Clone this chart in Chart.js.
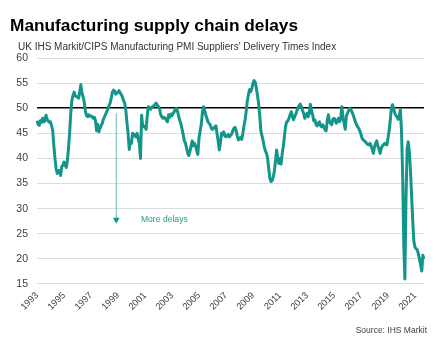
<!DOCTYPE html>
<html>
<head>
<meta charset="utf-8">
<script src="https://cdn.jsdelivr.net/npm/chart.js@4/dist/chart.umd.min.js"></script>
<style>
  html, body { margin: 0; padding: 0; background: #ffffff; }
  #wrap { position: relative; width: 438px; height: 346px; overflow: hidden; font-family: "Liberation Sans", Arial, sans-serif; }
  #chart { position: absolute; left: 0; top: 0; }
  .txt { position: absolute; white-space: nowrap; line-height: 1; }
  #title { left: 10px; top: 17.3px; font-size: 17.3px; font-weight: bold; color: #000; }
  #subtitle { left: 18px; top: 41.5px; font-size: 10px; color: #333; }
  #source { right: 11px; top: 325.5px; font-size: 8.5px; color: #404040; }
</style>
</head>
<body>
<div id="wrap">
  <canvas id="chart" width="438" height="346"></canvas>
  <div class="txt" id="title">Manufacturing supply chain delays</div>
  <div class="txt" id="subtitle">UK IHS Markit/CIPS Manufacturing PMI Suppliers' Delivery Times Index</div>
  <div class="txt" id="source">Source: IHS Markit</div>
</div>
<script>
// ---- Data (monthly, Jan 1993 onwards) ----
const startYear = 1993;
const deliveryTimes1993to1999 = [
  47.5, 46.8, 46.6, 47.5, 47.2, 48.0, 47.3, 47.5, 48.6, 47.8, 47.5, 47.2,
  47.3, 46.5, 45.5, 42.5, 40.0, 38.0, 37.0, 37.6, 37.5, 36.6, 38.4, 38.6,
  39.3, 38.8, 38.2, 39.5, 42.0, 45.0, 49.0, 51.5, 52.5, 53.2, 52.5, 52.3,
  52.3, 52.0, 53.3, 54.7, 53.0, 52.3, 51.2, 49.5, 48.5, 48.3, 48.7, 48.4,
  48.5, 48.3, 48.0, 48.2, 47.5, 45.5, 46.8, 45.3, 46.0, 46.5, 47.0, 47.8,
  48.3, 48.8, 49.3, 49.8, 50.5, 51.0, 52.0, 53.2, 53.6, 53.4, 52.8, 53.0,
  53.2, 53.5, 53.0, 52.7, 52.2, 51.5, 51.0, 49.5, 47.0, 45.0, 41.8, 43.5
];
const deliveryTimes2000to2006 = [
  43.0, 45.0, 44.5, 44.8, 44.3, 45.0, 44.0, 43.0, 40.0, 48.6, 46.3, 46.5,
  46.3, 45.8, 48.5, 50.3, 50.0, 49.8, 50.2, 50.3, 50.5, 50.8, 51.0, 50.5,
  50.3, 49.8, 48.7, 48.3, 48.0, 48.2, 48.0, 47.6, 47.3, 48.7, 48.2, 48.8,
  48.5, 49.0, 49.3, 49.8, 50.0, 49.3, 48.3, 47.5, 46.8, 45.8, 44.7, 43.5,
  43.0, 42.0, 41.0, 40.6, 41.5, 42.5, 43.5, 42.5, 43.0, 42.5, 41.5, 40.8,
  44.0, 45.5, 46.7, 49.0, 50.3, 49.5, 48.7, 48.0, 47.3, 47.0, 46.7, 46.0,
  45.8, 46.0, 46.3, 46.5, 45.0, 43.5, 41.7, 43.0, 45.0, 44.7, 45.3, 44.5
];
const deliveryTimes2007to2013 = [
  44.3, 44.5, 44.8, 44.3, 44.6, 44.8, 45.5, 46.0, 46.2, 45.5, 44.5, 43.7,
  44.0, 44.2, 43.8, 45.0, 46.5, 47.7, 49.5, 51.5, 52.8, 53.7, 53.3, 54.0,
  55.0, 55.5, 55.2, 54.0, 52.5, 51.0, 48.5, 45.5, 44.5, 43.5, 42.3, 41.5,
  41.0, 40.0, 38.0, 36.0, 35.4, 35.6, 36.3, 37.5, 39.5, 41.7, 40.0, 39.0,
  40.0, 38.9, 41.0, 42.5, 44.5, 46.5, 47.3, 47.5, 48.0, 48.7, 49.3, 48.5,
  47.7, 48.3, 48.8, 49.5, 50.0, 50.5, 50.8, 50.3, 49.5, 49.0, 48.0, 48.5,
  49.0, 48.3, 49.0, 50.8, 49.5, 48.7, 47.5, 47.7, 46.8, 46.5, 47.0, 47.3
];
const deliveryTimes2014to2021 = [
  46.6, 46.3, 46.7, 46.3, 45.7, 45.5, 47.5, 48.7, 47.3, 47.0, 46.7, 47.8,
  48.0, 47.7, 47.0, 47.5, 48.0, 47.3, 48.0, 50.3, 48.0, 47.0, 45.8, 48.5,
  49.0, 49.5, 50.0, 49.7, 49.2, 48.7, 48.0, 47.3, 46.8, 46.3, 46.0, 45.4,
  44.8, 44.0, 43.7, 43.5, 43.3, 43.0, 42.8, 42.7, 43.0, 42.5, 41.8, 41.0,
  42.3, 43.0, 43.5, 42.5, 41.8, 41.0, 42.0, 42.5, 42.7, 43.0, 42.8, 42.7,
  44.0, 45.5, 47.5, 50.0, 50.7, 50.0, 49.0, 48.5, 48.3, 47.8, 48.5, 49.7,
  45.5, 37.0, 23.0, 16.0, 32.0, 42.0, 43.3, 41.3, 37.5, 32.5, 27.5, 23.5,
  22.3, 22.0, 21.8, 21.0, 20.0, 18.8, 17.6, 20.7, 20.0
];
const yAxisMin = 15, yAxisMax = 60, yAxisStep = 5;
const referenceLevel = 50;
const annotationText = "More delays";

const values = [].concat(deliveryTimes1993to1999, deliveryTimes2000to2006,
                         deliveryTimes2007to2013, deliveryTimes2014to2021);
const labels = values.map((v, i) => (startYear + Math.floor(i / 12)) + "-" + String(i % 12 + 1).padStart(2, "0"));

const FONT = "'Liberation Sans', Arial, sans-serif";
const TEAL = "#14958a";

const arrowPlugin = {
  id: "moreDelays",
  afterDatasetsDraw(chart) {
    const { ctx, scales: { x, y } } = chart;
    const ax = x.getPixelForValue(70.5);
    const yTop = y.getPixelForValue(49);
    const yTip = y.getPixelForValue(27);
    ctx.save();
    ctx.strokeStyle = "#6bbab3";
    ctx.lineWidth = 1;
    ctx.beginPath();
    ctx.moveTo(ax, yTop);
    ctx.lineTo(ax, yTip - 5);
    ctx.stroke();
    ctx.fillStyle = TEAL;
    ctx.beginPath();
    ctx.moveTo(ax - 3.3, yTip - 6);
    ctx.lineTo(ax + 3.3, yTip - 6);
    ctx.lineTo(ax, yTip);
    ctx.closePath();
    ctx.fill();
    ctx.font = "8.6px " + FONT;
    ctx.fillStyle = "#1f9b90";
    ctx.textAlign = "left";
    ctx.textBaseline = "middle";
    ctx.fillText(annotationText, x.getPixelForValue(92.4), y.getPixelForValue(27.8));
    ctx.restore();
  }
};

new Chart(document.getElementById("chart"), {
  type: "line",
  data: {
    labels: labels,
    datasets: [{
      data: values,
      borderColor: TEAL,
      borderWidth: 3,
      pointRadius: 0,
      tension: 0,
      borderJoinStyle: "round",
      fill: false
    }]
  },
  options: {
    responsive: false,
    animation: false,
    layout: { padding: { left: 7.3, top: 58, right: 14, bottom: 27.5 } },
    plugins: { legend: { display: false }, tooltip: { enabled: false } },
    scales: {
      x: {
        type: "category",
        offset: false,
        grid: { display: false, drawTicks: false },
        border: { display: false },
        ticks: {
          autoSkip: false,
          minRotation: 45,
          maxRotation: 45,
          padding: 6,
          color: "#404040",
          font: { family: FONT, size: 9.3 },
          callback: (val, idx) => (idx % 24 === 0 ? String(startYear + idx / 12) : null)
        }
      },
      y: {
        min: yAxisMin,
        max: yAxisMax,
        border: { display: false },
        grid: {
          drawTicks: false,
          color: (c) => (c.tick && c.tick.value === referenceLevel ? "#000000" : "#dcdcdc"),
          lineWidth: (c) => (c.tick && c.tick.value === referenceLevel ? 1.5 : 1)
        },
        ticks: {
          stepSize: yAxisStep,
          padding: 9,
          color: "#404040",
          font: { family: FONT, size: 10.5 }
        }
      }
    }
  },
  plugins: [arrowPlugin]
});
</script>
</body>
</html>
